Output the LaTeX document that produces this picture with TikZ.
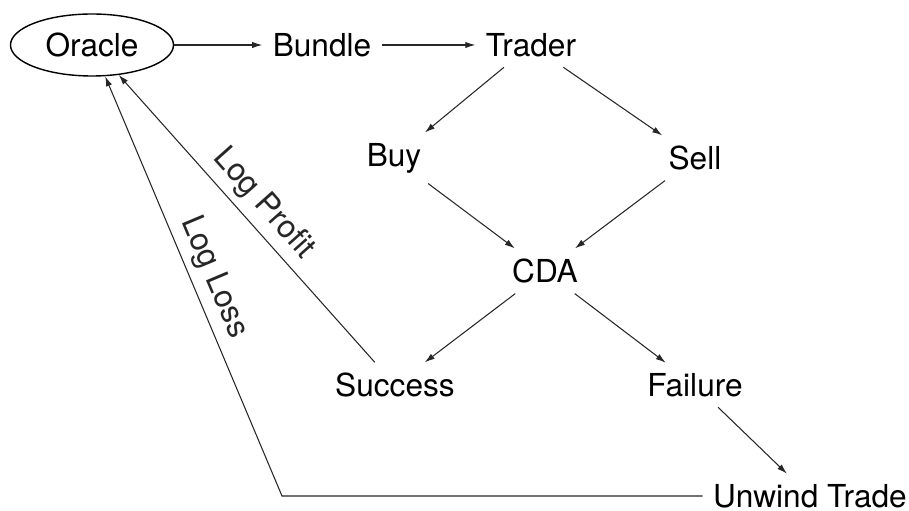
\documentclass[tikz,border=0pt]{standalone}
\usepackage{fontspec}
\setmainfont{TeX Gyre Heros}
\usepackage{tikz}
\usetikzlibrary{arrows.meta,shapes.geometric}
\tikzset{>={Latex[length=2mm,width=1.25mm]}}
\tikzset{
	state/.style={inner sep=0.2cm, font=\fontsize{18}{21}\selectfont},
	flow/.style={->, line width=0.6pt, black!85},
	steplabel/.style={sloped, above, inner sep=0.14cm, font=\fontsize{18}{21}\selectfont}
}

\begin{document}
\begin{tikzpicture}[line width=0.6pt]
		% Frame
		\useasboundingbox (0,0) rectangle (18.18,10.22);
		
		% Nodes
		\node[state, draw, ellipse, line width=0.8pt, minimum width=3.26cm, minimum height=1.24cm, inner sep=0pt] (oracle) at (1.84,9.32) {Oracle};
		\node[state] (bundle) at (6.44,9.32) {Bundle};
		\node[state] (trader) at (10.62,9.32) {Trader};
		\node[state] (buy) at (7.88,7.06) {Buy};
		\node[state] (sell) at (13.9,7.06) {Sell};
		\node[state] (cda) at (10.9,4.8) {CDA};
		\node[state] (success) at (7.9,2.52) {Success};
		\node[state] (failure) at (13.9,2.52) {Failure};
		\node[state] (unwind) at (16.2,0.3) {Unwind Trade};
		\coordinate (corner) at (5.64,0.3);
		
		% Arrows
		\draw[flow] (oracle) -- (bundle);
		\draw[flow] (bundle) -- (trader);
		\draw[flow] (trader) -- (buy);
		\draw[flow] (trader) -- (sell);
		\draw[flow] (buy) -- (cda);
		\draw[flow] (sell) -- (cda);
		\draw[flow] (cda) -- (success);
		\draw[flow] (cda) -- (failure);
		\draw[flow] (failure) -- (unwind);
		
		%% Feedback
		\draw[flow] (success) -- node[steplabel, pos=0.5] {Log Profit} (oracle);
		\draw[flow] (unwind) -- (corner) -- node[steplabel, pos=0.5] {Log Loss} (oracle);
	\end{tikzpicture}
\end{document}
